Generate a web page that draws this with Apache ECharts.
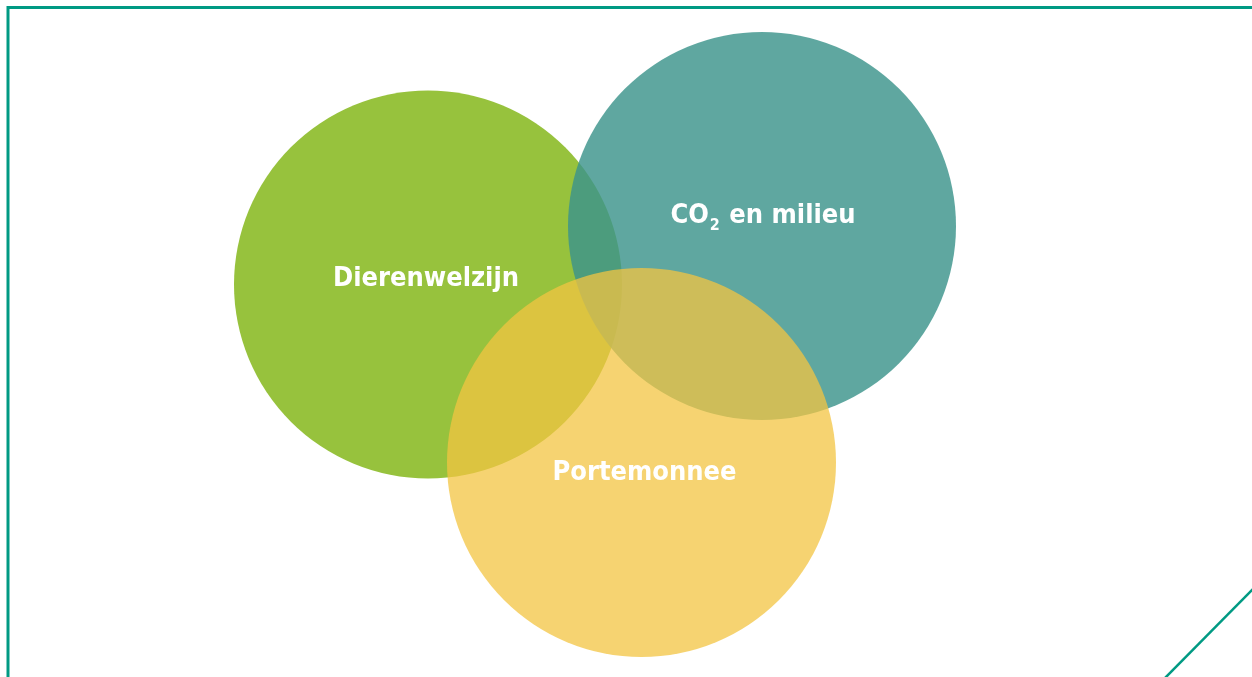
<!DOCTYPE html>
<html>
<head>
<meta charset="utf-8">
<script src="https://cdn.jsdelivr.net/npm/echarts@6/dist/echarts.min.js"></script>
<style>
  html, body { margin: 0; padding: 0; background: #fff; }
  #chart { width: 1252px; height: 677px; }
</style>
</head>
<body>
<div id="chart"></div>
<script>
// Venn sets, positions in canvas-sized units (x right, y down)
const setNames = ['Dierenwelzijn', 'CO2 en milieu', 'Portemonnee']
const centerX = [428, 762, 641.5]
const centerY = [284.5, 226, 462.5]
const radius = [194, 194, 194.5]
const fills = ['#97c23d', 'rgba(60,148,139,0.82)', 'rgba(243,196,66,0.75)']
const labelOffsets = [[-2, -6], [1, -10], [3, 10.5]]

const chart = echarts.init(document.getElementById('chart'))
const font = '"DejaVu Sans Condensed", "DejaVu Sans", sans-serif'

const buildOption = (sizes) => ({
  animation: false,
  backgroundColor: '#fff',
  grid: { left: 0, right: 0, top: 0, bottom: 0 },
  xAxis: { type: 'value', min: 0, max: 1252, show: false },
  yAxis: { type: 'value', min: 0, max: 677, inverse: true, show: false },
  graphic: [
    {
      type: 'polyline',
      shape: { points: [[8, 677], [8, 7.5], [1252, 7.5]] },
      style: { stroke: '#009a83', lineWidth: 3, fill: null },
      silent: true
    },
    {
      type: 'line',
      shape: { x1: 1165, y1: 678, x2: 1253, y2: 589 },
      style: { stroke: '#009a83', lineWidth: 2.5 },
      silent: true
    }
  ],
  series: [{
    type: 'scatter',
    silent: true,
    symbol: 'circle',
    data: setNames.map((name, i) => ({
      name,
      value: [centerX[i], centerY[i]],
      symbolSize: sizes[i],
      itemStyle: { color: fills[i], opacity: 1 },
      label: {
        show: true,
        position: 'inside',
        offset: labelOffsets[i],
        color: '#fff',
        fontFamily: font,
        fontWeight: 'bold',
        fontSize: 27,
        formatter: i === 1 ? '{a|CO}{s|2}{a| en milieu}' : name,
        rich: {
          a: { color: '#fff', fontFamily: font, fontWeight: 'bold', fontSize: 27, lineHeight: 34 },
          s: { color: '#fff', fontFamily: font, fontWeight: 'bold', fontSize: 16, lineHeight: 34, padding: [20, 1, 0, 1] }
        }
      }
    })),
    emphasis: { disabled: true }
  }]
})

chart.setOption(buildOption([0, 0, 0]))
// turn data radius into pixel diameter through the axis scale
const sizes = radius.map((r) => {
  const a = chart.convertToPixel({ gridIndex: 0 }, [0, 0])
  const b = chart.convertToPixel({ gridIndex: 0 }, [r, 0])
  return (b[0] - a[0]) * 2
})
chart.setOption(buildOption(sizes))
</script>
</body>
</html>
